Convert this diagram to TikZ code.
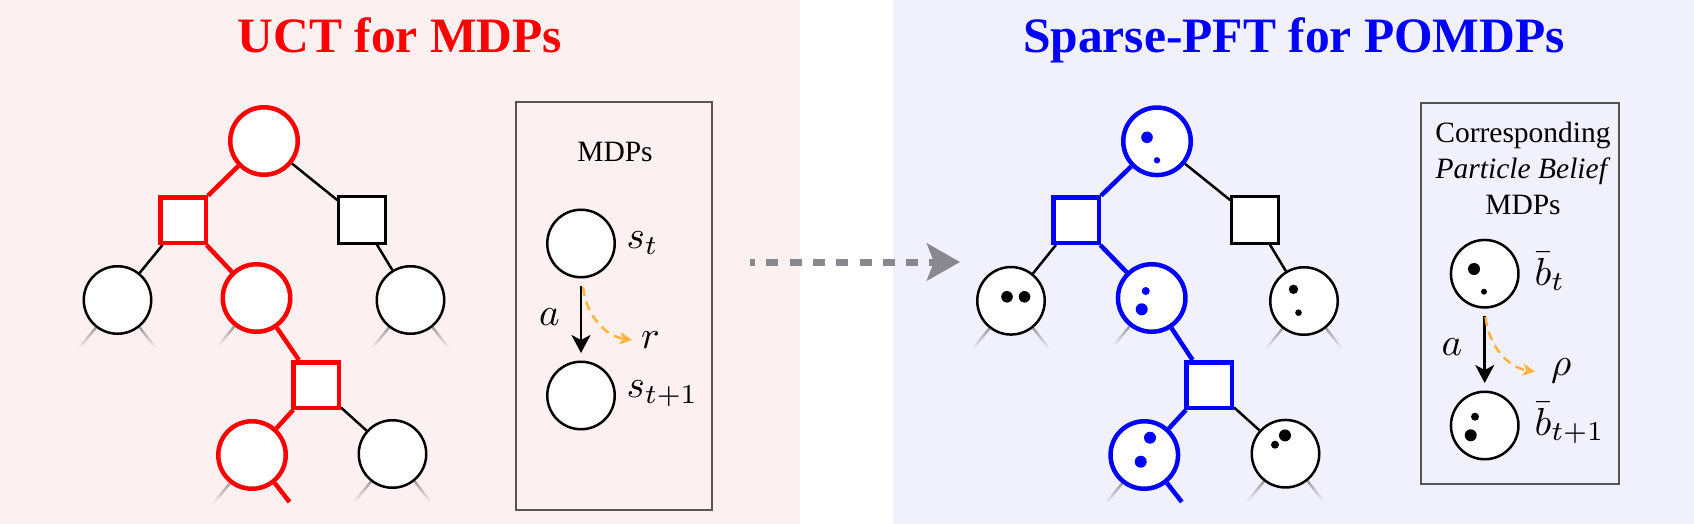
\documentclass[tikz,border=0pt]{standalone}
\usepackage{fontspec}
\setmainfont{Liberation Serif}
\usetikzlibrary{arrows.meta,calc}
\definecolor{pinkbg}{RGB}{253,240,241}
\definecolor{bluebg}{RGB}{240,241,253}
\definecolor{rewardorange}{RGB}{253,180,60}
\definecolor{boxgray}{RGB}{85,85,85}
\definecolor{arrowgray}{RGB}{136,136,142}
\pgfdeclarelayer{bg}
\pgfdeclarelayer{edges}
\pgfsetlayers{bg,edges,main}
\newcommand\bigmath[1]{\scalebox{3.9}{\fontsize{10}{12}\selectfont$#1$}}
\tikzset{
  state/.style={circle, draw=black, line width=2.5pt, fill=white, minimum size=67.5pt, inner sep=0pt},
  act/.style={rectangle, draw=black, line width=2.5pt, fill=white, minimum size=47pt, inner sep=0pt},
  redstate/.style={state, draw=red, line width=4.5pt},
  bluestate/.style={state, draw=blue, line width=4.5pt},
  redact/.style={act, draw=red, line width=4.5pt, minimum size=45.5pt},
  blueact/.style={act, draw=blue, line width=4.5pt, minimum size=45.5pt},
  edge/.style={draw=black, line width=2.5pt},
  redge/.style={draw=red, line width=4.5pt},
  bedge/.style={draw=blue, line width=4.5pt},
  legendbox/.style={draw=boxgray, line width=2pt, inner sep=0pt},
  title/.style={font=\fontsize{49.5}{60}\selectfont\bfseries, anchor=base, inner sep=0pt},
  boxtext/.style={font=\fontsize{29.5}{36}\selectfont, inner sep=0pt},
  mathlbl/.style={inner sep=0pt, anchor=base west},
  actarrow/.style={draw=black, line width=2.5pt, -{Stealth[length=18pt,width=19pt,inset=5pt]}, shorten <=7.5pt, shorten >=7.5pt},
  rewardarrow/.style={draw=rewardorange, line width=2.5pt, dash pattern=on 9pt off 6pt, -{Stealth[length=12pt,width=12pt,inset=3pt]}},
  bigarrow/.style={draw=arrowgray, line width=7pt, dash pattern=on 12pt off 11.3pt, dash phase=7pt, -{Stealth[length=33pt,width=37pt,inset=7pt]}},
}
% #1 node, #2 suffix, #3 border angle, #4 dx
\newcommand\fadestub[4]{%
  \coordinate (#1-#2) at ($(#1.center)+(#4,47)$);
  \foreach \i [evaluate=\i as \fa using \i/8, evaluate=\i as \fb using (\i+1)/8, evaluate=\i as \op using 0.7*(1-\i/8)] in {0,...,7}
    \draw[gray, line width=2.5pt, draw opacity=\op] ($(#1.#3)!\fa!(#1-#2)$) -- ($(#1.#3)!\fb!(#1-#2)$);
}
\begin{document}
\begin{tikzpicture}[x=1pt,y=-1pt]
\begin{pgfonlayer}{bg}
\fill[pinkbg] (0,0) rectangle (800,524);
\fill[bluebg] (893,0) rectangle (1694,524);
\end{pgfonlayer}
\useasboundingbox (0,0) rectangle (1694,524);

% titles
\node[title, text=red] (t1) at (400,53) {UCT for MDPs};
\node[title, text=blue] (t2) at (1294,53) {Sparse-PFT for POMDPs};

% left tree
\node[redstate] (L0) at (264,141) {};
\node[redact] (L1a) at (183,220) {};
\node[act] (L1b) at (362,220) {};
\node[state] (L2a) at (117.5,300) {};
\node[redstate] (L2b) at (256.5,298) {};
\node[state] (L2c) at (410.5,300) {};
\node[redact] (L3) at (316,385) {};
\node[redstate] (L4a) at (252,455) {};
\node[state] (L4b) at (392.5,454) {};

% right tree
\node[bluestate] (R0) at (1157,141.3) {};
\node[blueact] (R1a) at (1076,220) {};
\node[act] (R1b) at (1255,220) {};
\node[state] (R2a) at (1011,300.8) {};
\node[bluestate] (R2b) at (1151.7,298) {};
\node[state] (R2c) at (1304,301) {};
\node[blueact] (R3) at (1209,385) {};
\node[bluestate] (R4a) at (1144.3,455) {};
\node[state] (R4b) at (1285.5,453.7) {};

% particles
\fill[blue] ($(R0)+(-10,-4)$) circle (5.8pt);
\fill[blue] ($(R0)+(0,19)$) circle (3.2pt);
\fill[black] ($(R2a)+(-4,-4)$) circle (5.8pt);
\fill[black] ($(R2a)+(13.5,-4)$) circle (5.8pt);
\fill[blue] ($(R2b)+(-6,-7)$) circle (4pt);
\fill[blue] ($(R2b)+(-10,11.3)$) circle (6pt);
\fill[black] ($(R2c)+(-10.5,-11.7)$) circle (4.7pt);
\fill[black] ($(R2c)+(-5.5,11.7)$) circle (3.3pt);
\fill[blue] ($(R4a)+(5.7,-17.3)$) circle (6pt);
\fill[blue] ($(R4a)+(-3.6,6.7)$) circle (6pt);
\fill[black] ($(R4b)+(-0.5,-18.3)$) circle (6pt);
\fill[black] ($(R4b)+(-10.5,-9)$) circle (4pt);

\begin{pgfonlayer}{edges}
\draw[redge] (L0) -- (L1a);
\draw[edge] (L0) -- (L1b);
\draw[edge] (L1a) -- (L2a);
\draw[redge] (L1a) -- (L2b);
\draw[edge] (L1b) -- (L2c);
\draw[redge] (L2b) -- (L3);
\draw[redge] (L3) -- (L4a);
\draw[edge] (L3) -- (L4b);
\fadestub{L2a}{l}{-128.58}{-37.5}
\fadestub{L2a}{r}{-51.42}{37.5}
\fadestub{L2b}{l}{-128.58}{-37.5}
\fadestub{L2c}{l}{-128.58}{-37.5}
\fadestub{L2c}{r}{-51.42}{37.5}
\fadestub{L4a}{l}{-128.58}{-37.5}
\coordinate (L4a-r) at ($(L4a.center)+(37.5,47)$);
\draw[redge] (L4a.-51.42) -- (L4a-r);
\fadestub{L4b}{l}{-128.58}{-37.5}
\fadestub{L4b}{r}{-51.42}{37.5}

\draw[bedge] (R0) -- (R1a);
\draw[edge] (R0) -- (R1b);
\draw[edge] (R1a) -- (R2a);
\draw[bedge] (R1a) -- (R2b);
\draw[edge] (R1b) -- (R2c);
\draw[bedge] (R2b) -- (R3);
\draw[bedge] (R3) -- (R4a);
\draw[edge] (R3) -- (R4b);
\fadestub{R2a}{l}{-128.58}{-37.5}
\fadestub{R2a}{r}{-51.42}{37.5}
\fadestub{R2b}{l}{-128.58}{-37.5}
\fadestub{R2c}{l}{-128.58}{-37.5}
\fadestub{R2c}{r}{-51.42}{37.5}
\fadestub{R4a}{l}{-128.58}{-37.5}
\coordinate (R4a-r) at ($(R4a.center)+(37.5,47)$);
\draw[bedge] (R4a.-51.42) -- (R4a-r);
\fadestub{R4b}{l}{-128.58}{-37.5}
\fadestub{R4b}{r}{-51.42}{37.5}
\end{pgfonlayer}

% legend boxes
\node[legendbox, minimum width=196.6pt, minimum height=408.3pt] (lbox) at (614,305.8) {};
\node[legendbox, minimum width=198pt, minimum height=381.3pt] (rbox) at (1520,293.4) {};
\node[boxtext, anchor=base] (ltext) at (615,161) {MDPs};
\node[boxtext, align=center, anchor=north] (rtext) at (1523,121.6) {Corresponding\\\textit{Particle Belief}\\MDPs};

% left legend
\node[state] (s1) at (581,243.5) {};
\node[state] (s2) at (581,395.5) {};
\draw[actarrow] (s1) -- (s2);
\coordinate (r1a) at (583,287);
\coordinate (r1b) at (632,340);
\draw[rewardarrow] (r1a) .. controls (586,315) and (605,336) .. (r1b);
\node[mathlbl] (stl) at (626.5,248.5) {\bigmath{s_t}};
\node[mathlbl] (st1l) at (626.5,397.7) {\bigmath{s_{t+1}}};
\node[mathlbl] (al) at (539,325) {\bigmath{a}};
\node[mathlbl] (rl) at (641,348.3) {\bigmath{r}};

% right legend
\node[state] (b1) at (1484.7,273.7) {};
\node[state] (b2) at (1484.7,425.5) {};
\fill[black] ($(b1)+(-10.7,-4.7)$) circle (6pt);
\fill[black] ($(b1)+(-0.7,18)$) circle (3pt);
\fill[black] ($(b2)+(-9.7,-8.8)$) circle (4pt);
\fill[black] ($(b2)+(-14,9.8)$) circle (6pt);
\draw[actarrow] (b1) -- (b2);
\coordinate (r2a) at (1485.5,317);
\coordinate (r2b) at (1535,371.7);
\draw[rewardarrow] (r2a) .. controls (1488.5,345) and (1507,367) .. (r2b);
\node[mathlbl] (btl) at (1534.5,285) {\bigmath{\bar b_t}};
\node[mathlbl] (bt1l) at (1534.5,435) {\bigmath{\bar b_{t+1}}};
\node[mathlbl] (ar) at (1441.5,355) {\bigmath{a}};
\node[mathlbl] (rhol) at (1551,375) {\bigmath{\rho}};

% transition arrow
\coordinate (gA) at (750,262);
\coordinate (gB) at (960,262);
\draw[bigarrow] (gA) -- (gB);
\end{tikzpicture}
\end{document}
